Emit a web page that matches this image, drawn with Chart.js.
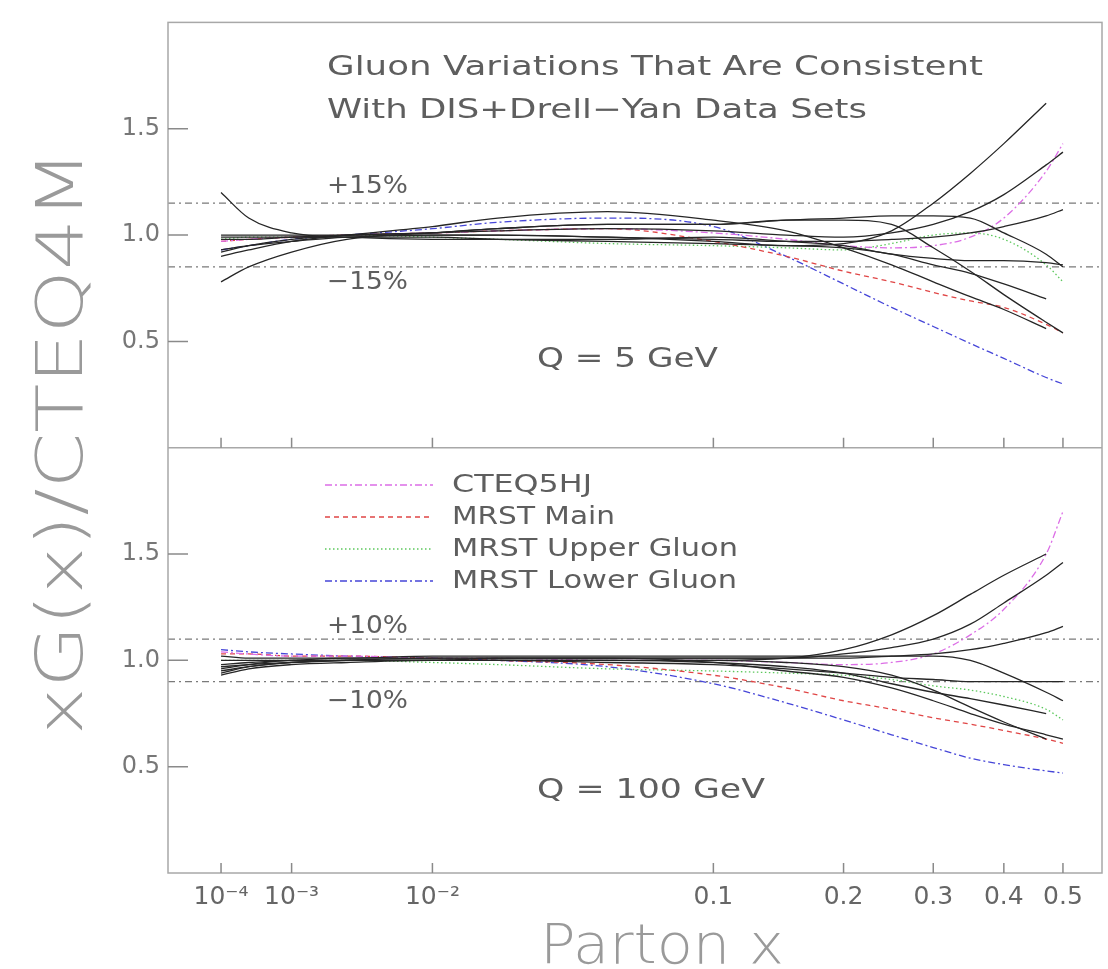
<!DOCTYPE html>
<html>
<head>
<meta charset="utf-8">
<script src="https://cdn.jsdelivr.net/npm/chart.js@4.4.0/dist/chart.umd.min.js"></script>
<style>
  body { margin: 0; background: #fff; }
  canvas { display: block; }
</style>
</head>
<body>
<canvas id="myChart" width="1108" height="969"></canvas>
<script>
// x samples shared by every curve
var xGrid = [1e-4, 3e-4, 1e-3, 3e-3, 0.01, 0.02, 0.05, 0.1, 0.15, 0.2, 0.25, 0.3, 0.35, 0.4, 0.47, 0.5];

var xTickValues = [1e-4, 1e-3, 1e-2, 0.1, 0.2, 0.3, 0.4, 0.5];
var xTickLabels = ["10⁻⁴", "10⁻³", "10⁻²", "0.1", "0.2", "0.3", "0.4", "0.5"];
var yTickValues = [0.5, 1.0, 1.5];

// Q = 5 GeV panel
var q5Cteq5hj   = [0.97, 0.98, 0.99, 1.00, 1.01, 1.02, 1.03, 1.01, 0.98, 0.95, 0.94, 0.95, 0.99, 1.08, 1.30, 1.43];
var q5MrstMain  = [0.97, 0.98, 0.99, 1.00, 1.01, 1.02, 1.03, 0.97, 0.90, 0.83, 0.78, 0.73, 0.69, 0.66, 0.58, 0.54];
var q5MrstUpper = [0.98, 0.99, 0.99, 1.00, 0.99, 0.98, 0.96, 0.95, 0.94, 0.93, 0.96, 1.00, 1.01, 0.98, 0.86, 0.78];
var q5MrstLower = [0.93, 0.95, 0.98, 1.00, 1.03, 1.06, 1.08, 1.04, 0.90, 0.77, 0.66, 0.57, 0.49, 0.42, 0.33, 0.30];
var q5Variations = [
    [0.93, 0.95, 0.97, 0.99, 1.00, 1.00, 0.99, 0.97, 0.95, 0.96, 1.02, 1.15, 1.29, 1.43, 1.62, null],
    [0.98, 0.98, 0.99, 1.00, 1.01, 1.02, 1.03, 1.02, 1.00, 0.99, 1.01, 1.05, 1.11, 1.19, 1.33, 1.39],
    [1.00, 1.00, 1.00, 1.00, 1.00, 1.00, 0.99, 0.98, 0.97, 0.97, 0.98, 0.99, 1.01, 1.04, 1.09, 1.12],
    [0.78, 0.85, 0.92, 0.98, 1.01, 1.03, 1.05, 1.05, 1.07, 1.08, 1.09, 1.09, 1.08, 1.01, 0.91, 0.85],
    [1.20, 1.08, 1.01, 0.99, 0.98, 0.98, 0.98, 0.99, 0.97, 0.95, 0.91, 0.89, 0.88, 0.88, 0.87, 0.86],
    [0.99, 0.99, 0.99, 0.99, 0.99, 0.98, 0.97, 0.96, 0.95, 0.94, 0.91, 0.86, 0.82, 0.77, 0.70, null],
    [0.92, 0.95, 0.98, 1.00, 1.01, 1.03, 1.05, 1.05, 1.07, 1.07, 1.05, 0.94, 0.83, 0.72, 0.59, 0.54],
    [0.90, 0.93, 0.97, 1.00, 1.04, 1.08, 1.11, 1.07, 1.02, 0.94, 0.86, 0.78, 0.71, 0.65, 0.56, null]
];
var q5Band = [0.85, 1.15];

// Q = 100 GeV panel
var q100Cteq5hj   = [1.04, 1.03, 1.02, 1.02, 1.01, 1.01, 1.00, 1.00, 0.99, 0.98, 0.99, 1.03, 1.12, 1.24, 1.50, 1.70];
var q100MrstMain  = [1.03, 1.03, 1.02, 1.02, 1.01, 1.00, 0.98, 0.93, 0.87, 0.81, 0.77, 0.73, 0.70, 0.67, 0.63, 0.61];
var q100MrstUpper = [1.00, 1.00, 1.00, 1.00, 0.99, 0.98, 0.96, 0.95, 0.94, 0.93, 0.91, 0.88, 0.86, 0.83, 0.77, 0.72];
var q100MrstLower = [1.05, 1.04, 1.03, 1.02, 1.01, 1.00, 0.97, 0.89, 0.80, 0.72, 0.65, 0.59, 0.54, 0.51, 0.48, 0.47];
var q100Variations = [
    [0.96, 0.98, 1.00, 1.00, 1.00, 1.00, 1.00, 1.00, 1.01, 1.05, 1.12, 1.21, 1.31, 1.40, 1.50, null],
    [0.98, 0.99, 1.00, 1.01, 1.01, 1.01, 1.01, 1.01, 1.01, 1.03, 1.06, 1.10, 1.17, 1.27, 1.40, 1.46],
    [1.00, 1.00, 1.00, 1.00, 1.00, 1.01, 1.01, 1.01, 1.01, 1.01, 1.02, 1.03, 1.05, 1.08, 1.13, 1.16],
    [1.02, 1.01, 1.01, 1.01, 1.02, 1.02, 1.02, 1.02, 1.02, 1.02, 1.02, 1.02, 1.00, 0.94, 0.85, 0.81],
    [0.94, 0.97, 0.99, 1.00, 1.00, 1.00, 0.99, 0.98, 0.96, 0.94, 0.92, 0.91, 0.90, 0.90, 0.90, 0.90],
    [0.93, 0.96, 0.98, 0.99, 1.00, 1.00, 1.00, 0.99, 0.97, 0.94, 0.89, 0.85, 0.82, 0.79, 0.75, null],
    [0.97, 0.98, 0.99, 1.00, 1.01, 1.01, 1.01, 0.99, 0.95, 0.92, 0.87, 0.81, 0.75, 0.70, 0.65, 0.63],
    [0.95, 0.97, 0.99, 1.00, 1.00, 1.00, 1.00, 1.00, 0.99, 0.97, 0.93, 0.86, 0.78, 0.71, 0.63, null]
];
var q100Band = [0.90, 1.10];

var legendLabels = ["CTEQ5HJ", "MRST Main", "MRST Upper Gluon", "MRST Lower Gluon"];

// the x axis of the original is linear in x^0.3
function u(x) { return Math.pow(x, 0.3); }
var uMin = 0.0159;
var uMax = 0.847;
var TOP_SHIFT = 2; // upper panel sits on y = 2..4 of the shared axis

var FONT = '"DejaVu Sans", sans-serif';

var styles = [
    { color: '#dc6ee6', dash: [7, 3, 2, 3] },
    { color: '#e04646', dash: [5, 4] },
    { color: '#5cc85c', dash: [1.5, 2.5] },
    { color: '#4646d8', dash: [7, 3, 2, 3] }
];

function curve(values, shift, color, dash) {
    var pts = [];
    values.forEach(function (v, i) {
        if (v !== null) pts.push({ x: u(xGrid[i]), y: v + shift });
    });
    return {
        data: pts,
        borderColor: color,
        borderWidth: 1.3,
        borderDash: dash || [],
        pointRadius: 0,
        fill: false,
        cubicInterpolationMode: 'monotone'
    };
}

function bandLine(v, shift) {
    return {
        data: [{ x: uMin, y: v + shift }, { x: uMax, y: v + shift }],
        borderColor: '#7a7a7a',
        borderWidth: 1.3,
        borderDash: [7, 4, 2, 4],
        pointRadius: 0,
        fill: false
    };
}

var datasets = [];
q5Variations.forEach(function (v) { datasets.push(curve(v, TOP_SHIFT, '#262626')); });
q100Variations.forEach(function (v) { datasets.push(curve(v, 0, '#262626')); });
[q5Cteq5hj, q5MrstMain, q5MrstUpper, q5MrstLower].forEach(function (v, i) {
    datasets.push(curve(v, TOP_SHIFT, styles[i].color, styles[i].dash));
});
[q100Cteq5hj, q100MrstMain, q100MrstUpper, q100MrstLower].forEach(function (v, i) {
    datasets.push(curve(v, 0, styles[i].color, styles[i].dash));
});
q5Band.forEach(function (v) { datasets.push(bandLine(v, TOP_SHIFT)); });
q100Band.forEach(function (v) { datasets.push(bandLine(v, 0)); });

// text stretched sideways to the width it has in the original (wide plotter font)
function wideText(ctx, text, x, y, width, size, color, weight) {
    ctx.save();
    ctx.font = (weight || 'normal') + ' ' + size + 'px ' + FONT;
    var w = ctx.measureText(text).width;
    ctx.fillStyle = color;
    ctx.textAlign = 'left';
    ctx.textBaseline = 'alphabetic';
    ctx.translate(x, y);
    ctx.scale(width / w, 1);
    ctx.fillText(text, 0, 0);
    ctx.restore();
}

var panelDeco = {
    id: 'panelDeco',
    afterDatasetsDraw: function (chart) {
        var ctx = chart.ctx;
        var a = chart.chartArea;
        var x = chart.scales.x;
        var y = chart.scales.y;
        var mid = y.getPixelForValue(TOP_SHIFT);
        ctx.save();

        // frame and panel divider
        ctx.strokeStyle = '#a8a8a8';
        ctx.lineWidth = 1.5;
        ctx.setLineDash([]);
        ctx.strokeRect(a.left, a.top, a.right - a.left, a.bottom - a.top);
        ctx.beginPath();
        ctx.moveTo(a.left, mid);
        ctx.lineTo(a.right, mid);
        ctx.stroke();

        // inward ticks
        ctx.strokeStyle = '#8a8a8a';
        ctx.beginPath();
        yTickValues.forEach(function (v) {
            [v, v + TOP_SHIFT].forEach(function (t) {
                var py = y.getPixelForValue(t);
                ctx.moveTo(a.left, py);
                ctx.lineTo(a.left + 20, py);
            });
        });
        xTickValues.forEach(function (v) {
            var px = x.getPixelForValue(u(v));
            [a.bottom, mid].forEach(function (b) {
                ctx.moveTo(px, b);
                ctx.lineTo(px, b - 10);
            });
        });
        ctx.stroke();

        // panel texts
        var txt = '#5e5e5e';
        wideText(ctx, 'Gluon Variations That Are Consistent', 327, 75, 656, 27, txt);
        wideText(ctx, 'With DIS+Drell\u2212Yan Data Sets', 327, 118, 540, 27, txt);
        wideText(ctx, '+15%', 327, 193, 81, 25, txt);
        wideText(ctx, '\u221215%', 327, 289, 81, 25, txt);
        wideText(ctx, 'Q = 5 GeV', 537, 367, 181, 27, txt);
        wideText(ctx, '+10%', 327, 633, 81, 25, txt);
        wideText(ctx, '\u221210%', 327, 708, 81, 25, txt);
        wideText(ctx, 'Q = 100 GeV', 537, 798, 228, 27, txt);

        // legend
        var legendY = [485, 517, 549, 581];
        var legendW = [140, 163, 286, 285];
        legendLabels.forEach(function (name, i) {
            ctx.strokeStyle = styles[i].color;
            ctx.lineWidth = 1.3;
            ctx.setLineDash(styles[i].dash);
            ctx.beginPath();
            ctx.moveTo(325, legendY[i]);
            ctx.lineTo(433, legendY[i]);
            ctx.stroke();
            wideText(ctx, name, 452, legendY[i] + 7, legendW[i], 25, txt);
        });
        ctx.setLineDash([]);

        // axis titles
        wideText(ctx, 'Parton x', 540, 963, 244, 55, '#9a9a9a', 200);
        ctx.translate(82, 442);
        ctx.rotate(-Math.PI / 2);
        wideText(ctx, 'xG(x)/CTEQ4M', -293, 0, 585, 64, '#9a9a9a', 200);

        ctx.restore();
    }
};

var ctx = document.getElementById('myChart');
var chart = new Chart(ctx, {
    type: 'line',
    data: { datasets: datasets },
    options: {
        responsive: false,
        animation: false,
        layout: { padding: { top: 9, right: 6, left: 0, bottom: 0 } },
        plugins: {
            legend: { display: false },
            tooltip: { enabled: false }
        },
        scales: {
            x: {
                type: 'linear',
                min: uMin,
                max: uMax,
                afterFit: function (s) { s.height = 96; },
                afterBuildTicks: function (s) {
                    s.ticks = xTickValues.map(function (v) { return { value: u(v) }; });
                },
                ticks: {
                    autoSkip: false,
                    maxRotation: 0,
                    padding: 9,
                    color: '#666',
                    font: { family: FONT, size: 25 },
                    callback: function (val, i) { return xTickLabels[i]; }
                },
                grid: { display: false, drawTicks: false },
                border: { display: false }
            },
            y: {
                type: 'linear',
                min: 0,
                max: 4,
                afterFit: function (s) { s.width = 168; },
                afterBuildTicks: function (s) {
                    var t = [];
                    yTickValues.forEach(function (v) { t.push({ value: v }); });
                    yTickValues.forEach(function (v) { t.push({ value: v + TOP_SHIFT }); });
                    s.ticks = t;
                },
                ticks: {
                    padding: 8,
                    color: '#777',
                    font: { family: FONT, size: 24 },
                    callback: function (val) {
                        return (val > TOP_SHIFT ? val - TOP_SHIFT : val).toFixed(1);
                    }
                },
                grid: { display: false, drawTicks: false },
                border: { display: false }
            }
        }
    },
    plugins: [panelDeco]
});
</script>
</body>
</html>
